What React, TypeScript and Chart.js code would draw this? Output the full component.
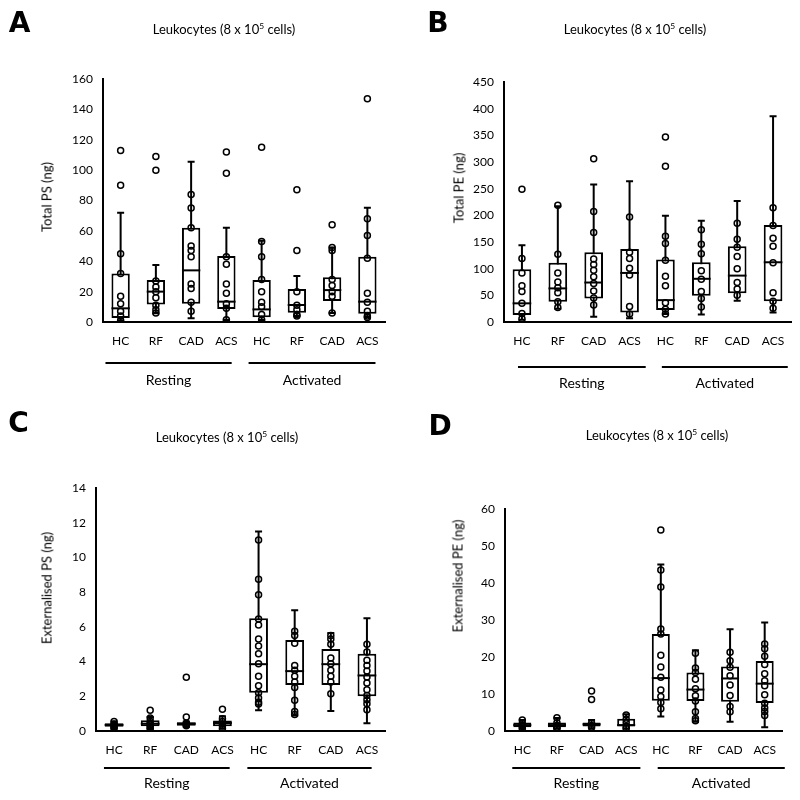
import React, { useEffect, useRef } from 'react';
import { Chart, registerables } from 'chart.js';

Chart.register(...registerables);

// ---------- shared ----------
const CATEGORIES = ['HC', 'RF', 'CAD', 'ACS', 'HC', 'RF', 'CAD', 'ACS'];
const GROUP_LABELS = ['Resting', 'Activated'];
const TITLE_MAIN = 'Leukocytes (8 x 10';
const TITLE_SUP = '5';
const TITLE_END = ' cells)';

// ---------- Panel A : Total PS (ng) ----------
const A_MIN = [1, 5.7, 2.4, 1.3, 1.3, 4, 6, 3.3];
const A_Q1 = [2.6, 11.6, 12, 8.5, 3.1, 6.1, 13.8, 5.5];
const A_MED = [9, 20, 34, 13.4, 8.3, 11.2, 21, 13.4];
const A_Q3 = [32, 27.6, 62, 43.5, 27.6, 21.7, 29.4, 43];
const A_MAX = [72, 37.5, 105.5, 62, 53.5, 30.3, 49, 75.3];
const A_POINTS = [
  [113, 90, 45, 32, 17, 12, 7, 4, 1],
  [109, 100, 27, 23, 20, 16, 11, 8, 6],
  [84, 75, 62, 50, 47, 43, 25, 22, 13, 7],
  [112, 98, 43, 38, 25, 19, 12, 9, 1.5],
  [115, 53, 43, 28, 20, 13, 10, 5, 1.5],
  [87, 47, 20, 11, 8, 5, 4],
  [64, 49, 47, 28, 24, 20, 17, 6],
  [147, 68, 57, 42, 19, 13, 7, 4, 3],
];
const A_Y_TITLE = 'Total PS (ng)';
const A_Y_MAX = 160;
const A_Y_STEP = 20;

// ---------- Panel B : Total PE (ng) ----------
const B_MIN = [4, 25, 10, 7, 15, 14, 40, 18];
const B_Q1 = [13, 38, 44, 18, 22.5, 49, 54, 39];
const B_MED = [35, 63, 74, 92, 41, 81, 87, 112];
const B_Q3 = [99, 111, 131, 137, 117, 112, 142, 182];
const B_MAX = [144, 217, 258, 264, 199, 190, 227, 386];
const B_POINTS = [
  [249, 119, 92, 68, 57, 35, 16, 6],
  [219, 127, 92, 75, 64, 55, 38, 27],
  [306, 207, 168, 118, 108, 97, 85, 72, 58, 45, 32],
  [197, 131, 119, 101, 88, 29, 15],
  [347, 292, 161, 147, 116, 86, 68, 36, 24, 15],
  [173, 146, 128, 96, 80, 57, 44, 28],
  [185, 155, 140, 123, 100, 74, 62, 50],
  [214, 181, 157, 142, 111, 55, 39, 26],
];
const B_Y_TITLE = 'Total PE (ng)';
const B_Y_MAX = 450;
const B_Y_STEP = 50;

// ---------- Panel C : Externalised PS (ng) ----------
const C_MIN = [0.15, 0.13, 0.25, 0.13, 1.2, 0.9, 1.15, 0.45];
const C_Q1 = [0.25, 0.27, 0.3, 0.27, 2.2, 2.65, 2.65, 2.0];
const C_MED = [0.35, 0.42, 0.42, 0.46, 3.85, 3.45, 3.85, 3.2];
const C_Q3 = [0.45, 0.62, 0.5, 0.6, 6.5, 5.25, 4.72, 4.45];
const C_MAX = [0.55, 0.8, 0.55, 0.85, 11.5, 6.95, 5.65, 6.5];
const C_POINTS = [
  [0.55, 0.4, 0.35, 0.3, 0.25, 0.15],
  [1.2, 0.75, 0.55, 0.45, 0.35, 0.25, 0.15],
  [3.1, 0.8, 0.45, 0.4, 0.35, 0.3],
  [1.25, 0.7, 0.55, 0.4, 0.3, 0.15],
  [11.0, 8.75, 7.85, 6.45, 6.1, 5.3, 4.9, 4.45, 3.88, 3.15, 2.6, 2.2, 1.9, 1.65, 1.55],
  [5.75, 5.5, 5.05, 3.78, 3.5, 3.15, 2.82, 2.5, 1.77, 1.13, 0.95],
  [5.5, 5.3, 5.0, 4.2, 3.88, 3.5, 3.15, 2.82, 2.15],
  [5.0, 4.55, 4.07, 3.78, 3.46, 3.11, 2.76, 2.38, 2.05, 1.8, 1.57, 1.23],
];
const C_Y_TITLE = 'Externalised PS (ng)';
const C_Y_MAX = 14;
const C_Y_STEP = 2;

// ---------- Panel D : Externalised PE (ng) ----------
const D_MIN = [0.7, 0.7, 0.7, 0.7, 3.9, 2.5, 2.5, 1.0];
const D_Q1 = [1.0, 1.0, 1.2, 1.2, 8.2, 8.1, 7.9, 7.6];
const D_MED = [1.6, 1.6, 1.8, 1.6, 14.3, 11.2, 14.2, 12.8];
const D_Q3 = [2.3, 2.3, 2.3, 3.3, 26.2, 15.8, 17.4, 18.9];
const D_MAX = [3.0, 3.5, 3.0, 4.5, 45, 21.8, 27.5, 29.3];
const D_POINTS = [
  [3.0, 2.0, 1.6, 1.2, 0.7],
  [3.6, 2.2, 1.5, 1.0, 0.7],
  [10.8, 8.5, 2.1, 1.5, 1.0],
  [4.3, 3.2, 2.2, 1.3, 0.7],
  [54.3, 43.5, 38.9, 27.6, 26.2, 20.5, 17.3, 14.5, 11.1, 9.3, 7.7, 6.0],
  [21.0, 17.0, 15.8, 14, 11.4, 9.5, 8.1, 5.2, 3.4, 2.8],
  [21.3, 19.0, 17.2, 14.9, 12.4, 9.6, 6.6, 5.2],
  [23.5, 22.2, 20.2, 18.0, 15.5, 13.6, 12.2, 9.8, 7.5, 6.2, 5.3, 4.2],
];
const D_Y_TITLE = 'Externalised PE (ng)';
const D_Y_MAX = 60;
const D_Y_STEP = 10;

const FONT = 'Lato, "Open Sans", sans-serif';

type PanelCfg = {
  letter: string;
  ox: number;
  oy: number;
  min: number[];
  q1: number[];
  med: number[];
  q3: number[];
  max: number[];
  points: number[][];
  yTitle: string;
  yMax: number;
  yStep: number;
  area: { l: number; r: number; t: number; b: number };
  yTitlePos: { x: number; y: number };
  titlePos: { x: number; y: number };
  letterPos: { x: number; y: number };
  lineY: number;
  labelY: number;
  spans: number[][];
};

const PANELS: PanelCfg[] = [
  {
    letter: 'A', ox: 0, oy: 0,
    min: A_MIN, q1: A_Q1, med: A_MED, q3: A_Q3, max: A_MAX, points: A_POINTS,
    yTitle: A_Y_TITLE, yMax: A_Y_MAX, yStep: A_Y_STEP,
    area: { l: 103, r: 385, t: 79, b: 322 },
    yTitlePos: { x: 47, y: 197 }, titlePos: { x: 224, y: 29 }, letterPos: { x: 19.5, y: 23 },
    lineY: 41, labelY: 58, spans: [[-0.43, 3.15], [3.63, 7.23]],
  },
  {
    letter: 'B', ox: 400, oy: 0,
    min: B_MIN, q1: B_Q1, med: B_MED, q3: B_Q3, max: B_MAX, points: B_POINTS,
    yTitle: B_Y_TITLE, yMax: B_Y_MAX, yStep: B_Y_STEP,
    area: { l: 104, r: 391, t: 82, b: 322 },
    yTitlePos: { x: 59, y: 188 }, titlePos: { x: 235, y: 29 }, letterPos: { x: 38, y: 23 },
    lineY: 45, labelY: 61, spans: [[-0.11, 3.45], [3.9, 7.41]],
  },
  {
    letter: 'C', ox: 0, oy: 400,
    min: C_MIN, q1: C_Q1, med: C_MED, q3: C_Q3, max: C_MAX, points: C_POINTS,
    yTitle: C_Y_TITLE, yMax: C_Y_MAX, yStep: C_Y_STEP,
    area: { l: 96, r: 385, t: 88, b: 331 },
    yTitlePos: { x: 47, y: 188 }, titlePos: { x: 227, y: 37 }, letterPos: { x: 18.5, y: 23 },
    lineY: 37, labelY: 52, spans: [[-0.28, 3.2], [3.69, 7.13]],
  },
  {
    letter: 'D', ox: 400, oy: 400,
    min: D_MIN, q1: D_Q1, med: D_MED, q3: D_Q3, max: D_MAX, points: D_POINTS,
    yTitle: D_Y_TITLE, yMax: D_Y_MAX, yStep: D_Y_STEP,
    area: { l: 105, r: 382, t: 109, b: 331 },
    yTitlePos: { x: 58, y: 176 }, titlePos: { x: 257, y: 35 }, letterPos: { x: 40, y: 26 },
    lineY: 37, labelY: 52, spans: [[-0.29, 3.41], [3.91, 7.58]],
  },
];

function BoxPanel({ cfg }: { cfg: PanelCfg }) {
  const ref = useRef<HTMLCanvasElement>(null);

  useEffect(() => {
    const canvas = ref.current;
    if (!canvas) return;
    const area = cfg.area;
    const boxData = CATEGORIES.map((_, i) => ({ x: i, y: [cfg.q1[i], cfg.q3[i]] }));
    const pts = cfg.points.flatMap((arr, i) => arr.map((v) => ({ x: i, y: v })));

    const boxPlugin = {
      id: 'boxWhiskers',
      beforeDatasetsDraw(chart: any) {
        const { ctx, scales } = chart;
        const x = scales.x;
        const y = scales.y;
        ctx.save();
        ctx.strokeStyle = '#000';
        ctx.lineWidth = 2;
        CATEGORIES.forEach((_, i) => {
          const px = x.getPixelForValue(i);
          const top = y.getPixelForValue(cfg.max[i]);
          const bot = y.getPixelForValue(cfg.min[i]);
          ctx.beginPath();
          ctx.moveTo(px, top);
          ctx.lineTo(px, bot);
          ctx.moveTo(px - 3.5, top);
          ctx.lineTo(px + 3.5, top);
          ctx.moveTo(px - 3.5, bot);
          ctx.lineTo(px + 3.5, bot);
          ctx.stroke();
        });
        ctx.restore();
      },
      afterDatasetsDraw(chart: any) {
        const { ctx, scales } = chart;
        const y = scales.y;
        const meta = chart.getDatasetMeta(0);
        ctx.save();
        ctx.strokeStyle = '#000';
        ctx.lineWidth = 2;
        meta.data.forEach((el: any, i: number) => {
          const py = y.getPixelForValue(cfg.med[i]);
          ctx.beginPath();
          ctx.moveTo(el.x - el.width / 2, py);
          ctx.lineTo(el.x + el.width / 2, py);
          ctx.stroke();
        });
        ctx.restore();
      },
      afterDraw(chart: any) {
        const { ctx, scales, chartArea } = chart;
        const x = scales.x;
        ctx.save();
        ctx.strokeStyle = '#000';
        ctx.fillStyle = '#000';
        ctx.lineWidth = 2;
        ctx.font = `14px ${FONT}`;
        ctx.textAlign = 'center';
        ctx.textBaseline = 'middle';
        cfg.spans.forEach((s, gi) => {
          const x0 = x.getPixelForValue(s[0]);
          const x1 = x.getPixelForValue(s[1]);
          const ly = chartArea.bottom + cfg.lineY;
          ctx.beginPath();
          ctx.moveTo(x0, ly);
          ctx.lineTo(x1, ly);
          ctx.stroke();
          ctx.fillText(GROUP_LABELS[gi], (x0 + x1) / 2, chartArea.bottom + cfg.labelY);
        });
        ctx.restore();
      },
    };

    const chart = new Chart(canvas, {
      type: 'bar',
      data: {
        datasets: [
          {
            type: 'bar',
            data: boxData as any,
            backgroundColor: '#ffffff',
            borderColor: '#000000',
            borderWidth: 2,
            borderSkipped: false,
            barPercentage: 0.52,
            categoryPercentage: 1,
            order: 2,
          } as any,
          {
            type: 'scatter',
            data: pts,
            pointRadius: 3,
            pointBorderWidth: 1.5,
            pointBorderColor: '#000000',
            pointBackgroundColor: 'rgba(255,255,255,0)',
            showLine: false,
            order: 1,
          } as any,
        ],
      },
      options: {
        animation: false,
        responsive: false,
        maintainAspectRatio: false,
        events: [],
        layout: { padding: { left: 0, top: area.t, right: 400 - area.r, bottom: 0 } },
        plugins: { legend: { display: false }, tooltip: { enabled: false }, title: { display: false } },
        scales: {
          x: {
            type: 'linear',
            min: -0.5,
            max: 7.5,
            offset: false,
            afterBuildTicks: (s: any) => {
              s.ticks = CATEGORIES.map((_, i) => ({ value: i }));
            },
            afterFit: (s: any) => {
              s.height = 400 - area.b;
            },
            ticks: {
              callback: (v: any) => CATEGORIES[v] ?? '',
              color: '#000',
              font: { family: FONT, size: 12 },
              padding: 12,
              maxRotation: 0,
              autoSkip: false,
            },
            grid: { display: false, drawTicks: false },
            border: { display: true, color: '#000', width: 2 },
          },
          y: {
            type: 'linear',
            min: 0,
            max: cfg.yMax,
            afterFit: (s: any) => {
              s.width = area.l;
            },
            ticks: {
              stepSize: cfg.yStep,
              color: '#000',
              font: { family: FONT, size: 12 },
              padding: 10,
            },
            grid: { display: false, drawTicks: false },
            border: { display: true, color: '#000', width: 2 },
          },
        },
      } as any,
      plugins: [boxPlugin],
    });
    return () => chart.destroy();
  }, [cfg]);

  return (
    <div style={{ position: 'absolute', left: cfg.ox, top: cfg.oy, width: 400, height: 400 }}>
      <canvas ref={ref} width={400} height={400} style={{ position: 'absolute', left: 0, top: 0, width: 400, height: 400 }} />
      <div
        style={{
          position: 'absolute', left: cfg.letterPos.x, top: cfg.letterPos.y,
          transform: 'translate(-50%, -50%)', fontFamily: '"DejaVu Sans", sans-serif',
          fontWeight: 700, fontSize: 28, lineHeight: 1, color: '#000', whiteSpace: 'nowrap',
        }}
      >
        {cfg.letter}
      </div>
      <div
        style={{
          position: 'absolute', left: cfg.titlePos.x, top: cfg.titlePos.y,
          transform: 'translate(-50%, -50%)', fontFamily: FONT, fontSize: 13,
          lineHeight: 1, color: '#000', whiteSpace: 'nowrap',
        }}
      >
        {TITLE_MAIN}
        <sup style={{ fontSize: '0.65em', verticalAlign: '0.55em', lineHeight: 0 }}>{TITLE_SUP}</sup>
        {TITLE_END}
      </div>
      <div
        style={{
          position: 'absolute', left: cfg.yTitlePos.x, top: cfg.yTitlePos.y,
          transform: 'translate(-50%, -50%) rotate(-90deg)', fontFamily: FONT, fontSize: 13,
          lineHeight: 1, color: '#000', whiteSpace: 'nowrap',
        }}
      >
        {cfg.yTitle}
      </div>
    </div>
  );
}

export default function App() {
  return (
    <div style={{ position: 'absolute', left: 0, top: 0, width: 800, height: 800, background: '#fff', overflow: 'hidden' }}>
      {PANELS.map((p) => (
        <BoxPanel key={p.letter} cfg={p} />
      ))}
    </div>
  );
}
